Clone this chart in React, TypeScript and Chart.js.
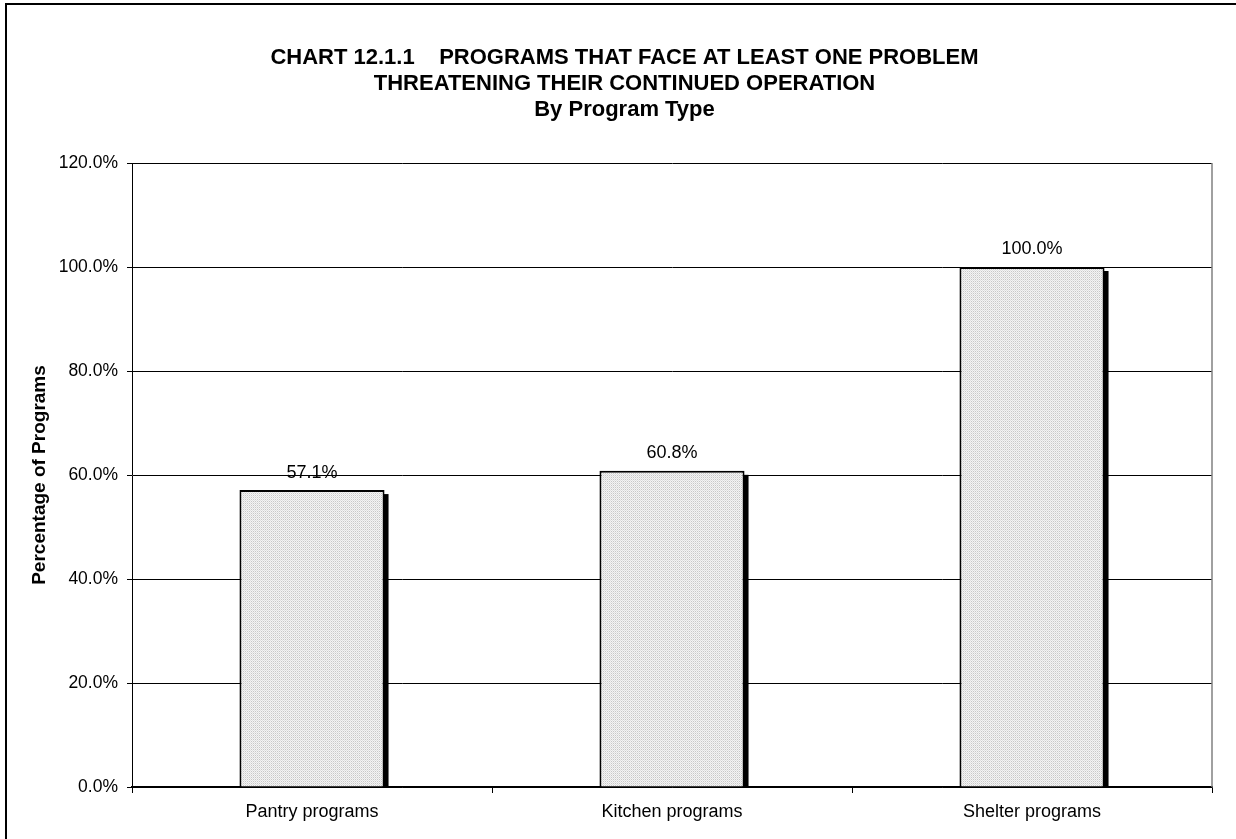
import React, { useEffect, useRef } from "react";
import { Chart, registerables } from "chart.js";
Chart.register(...registerables);

const categories = ["Pantry programs", "Kitchen programs", "Shelter programs"];
const values = [57.1, 60.8, 100.0];
const titleLines = [
  "CHART 12.1.1    PROGRAMS THAT FACE AT LEAST ONE PROBLEM",
  "THREATENING THEIR CONTINUED OPERATION",
  "By Program Type",
];
const yAxisTitle = "Percentage of Programs";
const yMin = 0;
const yMax = 120;
const yStep = 20;

const FONT = "'Liberation Sans', Arial, sans-serif";

function makePattern(): CanvasPattern | string {
  const c = document.createElement("canvas");
  c.width = 2;
  c.height = 2;
  const g = c.getContext("2d");
  if (!g) return "#e4e4e4";
  g.fillStyle = "#f4f4f4";
  g.fillRect(0, 0, 2, 2);
  g.fillStyle = "#c8c8c8";
  g.fillRect(0, 0, 1, 1);
  g.fillStyle = "#e0e0e0";
  g.fillRect(1, 1, 1, 1);
  const p = g.createPattern(c, "repeat");
  return p || "#e4e4e4";
}

const decor = {
  id: "decor",
  beforeDatasetsDraw(chart: any) {
    const ctx = chart.ctx;
    const meta = chart.getDatasetMeta(0);
    ctx.save();
    ctx.fillStyle = "#000";
    meta.data.forEach((bar: any) => {
      const { x, y, base, width } = bar.getProps(["x", "y", "base", "width"], true);
      ctx.fillRect(x + width / 2 - 1, y + 4, 5, base - y - 4);
    });
    ctx.restore();
  },
  afterDatasetsDraw(chart: any) {
    const ctx = chart.ctx;
    const meta = chart.getDatasetMeta(0);
    ctx.save();
    ctx.fillStyle = "#000";
    ctx.font = `18px ${FONT}`;
    ctx.textAlign = "center";
    ctx.textBaseline = "middle";
    meta.data.forEach((bar: any, i: number) => {
      const { x, y } = bar.getProps(["x", "y"], true);
      ctx.fillText(`${values[i].toFixed(1)}%`, x, y - 17.5);
    });
    const a = chart.chartArea;
    ctx.strokeStyle = "#808080";
    ctx.lineWidth = 1.5;
    ctx.beginPath();
    ctx.moveTo(a.right, a.top);
    ctx.lineTo(a.right, a.bottom);
    ctx.stroke();
    ctx.restore();
  },
};

export default function App() {
  const ref = useRef<HTMLCanvasElement | null>(null);
  useEffect(() => {
    if (!ref.current) return;
    const chart = new Chart(ref.current, {
      type: "bar",
      data: {
        labels: categories,
        datasets: [
          {
            data: values,
            backgroundColor: makePattern() as any,
            borderColor: "#000",
            borderWidth: 2,
            barPercentage: 0.403,
            categoryPercentage: 1,
          },
        ],
      },
      options: {
        animation: false,
        responsive: false,
        maintainAspectRatio: false,
        layout: { padding: 0 },
        plugins: {
          legend: { display: false },
          tooltip: { enabled: false },
          title: {
            display: true,
            text: titleLines,
            color: "#000",
            font: { family: FONT, size: 22, weight: "bold", lineHeight: 26 / 22 },
            padding: { top: 40, bottom: 40 },
          },
        },
        scales: {
          x: {
            grid: {
              display: true,
              drawOnChartArea: false,
              offset: true,
              color: "#000",
              tickColor: "#000",
              tickLength: 6,
            },
            border: { color: "#000", width: 1.5 },
            ticks: { color: "#000", font: { family: FONT, size: 18 }, padding: 8, maxRotation: 0 },
            afterFit: (s: any) => {
              s.height = 68;
            },
          },
          y: {
            min: yMin,
            max: yMax,
            ticks: {
              stepSize: yStep,
              color: "#000",
              font: { family: FONT, size: 17.5 },
              padding: 9,
              callback: (v: any) => `${Number(v).toFixed(1)}%`,
            },
            grid: { color: "#000", tickColor: "#000", tickLength: 5 },
            border: { color: "#000", width: 1 },
            title: {
              display: true,
              text: yAxisTitle,
              color: "#000",
              font: { family: FONT, size: 19, weight: "bold" },
              padding: { top: 21, bottom: 0 },
            },
            afterFit: (s: any) => {
              s.width = 125;
            },
          },
          y2: {
            position: "right",
            display: true,
            grid: { display: false, drawTicks: false },
            border: { display: false },
            ticks: { display: false },
            afterFit: (s: any) => {
              s.width = 30;
            },
          },
        },
      } as any,
      plugins: [decor],
    });
    return () => chart.destroy();
  }, []);
  return (
    <div
      style={{
        position: "fixed",
        left: 5,
        top: 3,
        width: 1235,
        height: 850,
        border: "2px solid #000",
        background: "#fff",
      }}
    >
      <canvas ref={ref} width={1235} height={850} style={{ display: "block", width: 1235, height: 850 }} />
    </div>
  );
}
